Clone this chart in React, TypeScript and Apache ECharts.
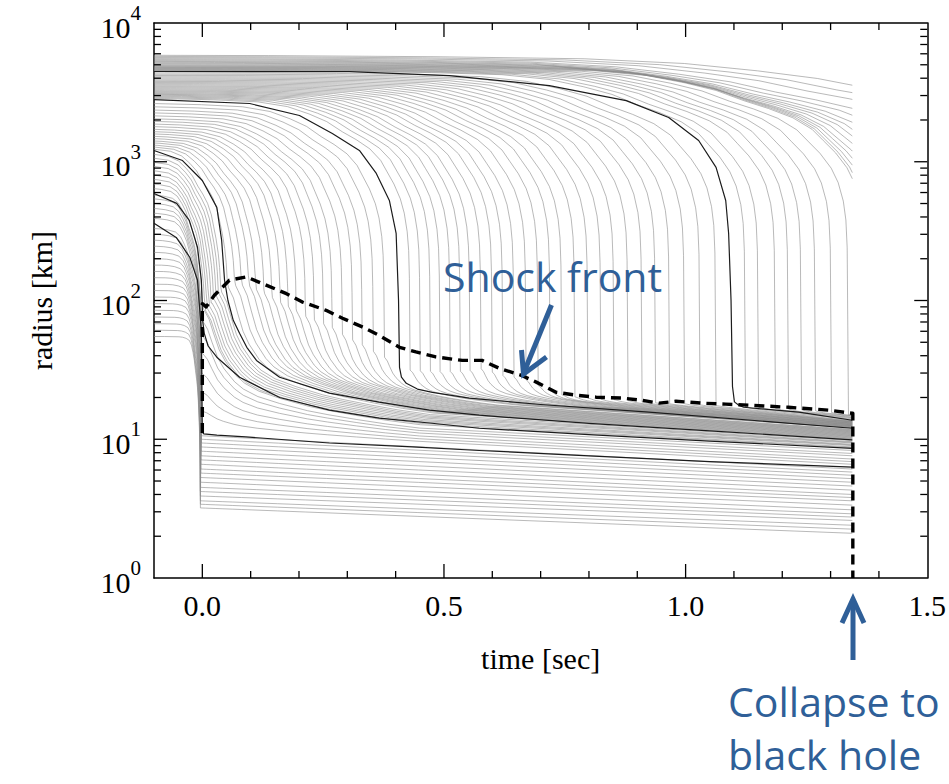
import React, { useEffect, useRef } from 'react';
import * as echarts from 'echarts';

// ---------- axis ranges ----------
const T_START = -0.1; // left edge of the time axis [s]
const T_END = 1.345; // black hole formation, all shells stop here [s]

const xMajorTicks = [0, 0.5, 1.0];
const xMinorTicks = [0.1, 0.2, 0.3, 0.4, 0.6, 0.7, 0.8, 0.9, 1.1, 1.2, 1.3, 1.4];
const yMajorTicks = [10, 100, 1000];
const yMinorTicks = [2, 3, 4, 5, 6, 7, 8, 9, 20, 30, 40, 50, 60, 70, 80, 90, 200, 300, 400, 500, 600, 700, 800, 900, 2000, 3000, 4000, 5000, 6000, 7000, 8000, 9000];

// ---------- shock front (dashed) ----------
const shockTime = [0, 0, 0.008, 0.025, 0.056, 0.091, 0.132, 0.174, 0.207, 0.256, 0.29, 0.331, 0.366, 0.408, 0.442, 0.483, 0.538, 0.579, 0.614, 0.66, 0.691, 0.732, 0.773, 0.815, 0.868, 0.91, 0.945, 0.98, 1.034, 1.083, 1.131, 1.213, 1.296, 1.344, 1.346, 1.346];
const shockRadius = [11.1, 95, 90, 109, 140, 148, 129, 112, 97.5, 85, 74.5, 64.5, 56, 46, 42.6, 39.2, 37, 37, 32.5, 28.9, 25.8, 21.8, 20.8, 20.1, 19.8, 19.1, 18.2, 18.8, 18.2, 17.9, 17.6, 17.0, 16.2, 15.4, 15.4, 1.0];

// ---------- highlighted (black) mass shells ----------
const shellATime = [-0.1, 0.304, 0.511, 0.718, 0.877, 0.965, 1.027, 1.063, 1.083, 1.089, 1.094, 1.097, 1.101, 1.11, 1.12, 1.234, 1.345];
const shellARadius = [4470, 4460, 4180, 3540, 2760, 2084, 1423, 910, 526, 305, 100, 24, 18.6, 17.6, 17.0, 15.7, 13.7];
const shellBTime = [-0.1, 0.098, 0.201, 0.269, 0.325, 0.36, 0.387, 0.401, 0.406, 0.408, 0.412, 0.422, 0.445, 0.476, 0.552, 0.7, 0.924, 1.345];
const shellBRadius = [2806, 2630, 2154, 1600, 1206, 824, 526, 305, 100, 33, 28, 25.3, 23, 21.8, 19.8, 17.8, 15.7, 12];
const shellCTime = [-0.1, -0.041, 0.0, 0.03, 0.04, 0.046, 0.053, 0.064, 0.077, 0.092, 0.112, 0.16, 0.263, 0.366, 0.47, 0.573, 0.8, 1.05, 1.345];
const shellCRadius = [1205, 1020, 733, 469, 271, 140, 100, 72, 58, 46, 37, 28, 21.5, 18.5, 16.2, 14.9, 13, 11.5, 9.9];
const shellDTime = [-0.1, -0.053, -0.027, -0.01, -0.002, 0.0, 0.001, 0.004, 0.012, 0.03, 0.077, 0.16, 0.263, 0.366, 0.47, 0.573, 0.8, 1.05, 1.345];
const shellDRadius = [591, 501, 378, 242, 140, 89, 70, 58, 47, 39, 28, 20, 16.2, 14.2, 13.1, 12, 10.8, 9.7, 8.6];
const shellETime = [-0.1, -0.054, -0.026, -0.01, -0.002, 0.0, 0.003, 0.03, 0.09, 0.263, 0.435, 0.573, 0.8, 1.05, 1.345];
const shellERadius = [360, 285, 205, 140, 60, 11.2, 10.95, 10.7, 10.4, 9.4, 8.8, 8.3, 7.6, 6.9, 6.3];

// ---------- grey mass shells (read per shell: start radius, collapse time, knee, settled & final radius) ----------
const innerStartKm = [330, 300, 272, 246, 222, 200, 180, 162, 146, 131, 118, 106, 95, 85, 76, 68, 61, 55];
const innerCollapseSec = [-0.002, -0.002, -0.002, -0.0025, -0.0025, -0.0025, -0.003, -0.003, -0.003, -0.003, -0.0035, -0.0035, -0.0035, -0.004, -0.004, -0.004, -0.004, -0.004];
const innerSettleKm = [10.6, 10.0, 9.4, 8.8, 8.2, 7.6, 7.1, 6.6, 6.1, 5.7, 5.3, 4.9, 4.5, 4.2, 3.9, 3.6, 3.4, 3.2];
const innerEndKm = [6.1, 5.8, 5.5, 5.2, 4.9, 4.6, 4.3, 4.0, 3.8, 3.6, 3.35, 3.1, 2.9, 2.75, 2.6, 2.4, 2.25, 2.1];

const coreStartKm = [390, 425, 460, 500, 540, 575];
const coreCollapseSec = [-0.0015, -0.0012, -0.0009, -0.0006, -0.0003, -0.0001];
const coreKneeKm = [16, 22, 30, 42, 56, 72];
const coreSettleKm = [11.7, 12.2, 12.8, 13.4, 14.0, 14.5];
const coreEndKm = [6.6, 6.9, 7.2, 7.6, 7.9, 8.3];

const earlyStartKm = [640, 690, 745, 800, 860, 925, 990, 1060, 1130];
const earlyCollapseSec = [0.003, 0.007, 0.011, 0.015, 0.02, 0.025, 0.03, 0.035, 0.04];
const earlyKneeKm = [86, 84, 87, 91, 96, 101, 106, 111, 115];
const earlySettleKm = [15.4, 15.8, 16.2, 16.6, 17.0, 17.4, 17.8, 18.2, 18.6];
const earlyEndKm = [8.7, 8.8, 9.0, 9.1, 9.2, 9.4, 9.5, 9.6, 9.8];

const midStartKm = [1231, 1275, 1317, 1365, 1411, 1467, 1524, 1586, 1647, 1713, 1791, 1869, 1954, 2039, 2142, 2249, 2358, 2489, 2626];
const midCollapseSec = [0.054, 0.069, 0.083, 0.098, 0.112, 0.129, 0.145, 0.162, 0.178, 0.195, 0.214, 0.232, 0.251, 0.269, 0.29, 0.311, 0.331, 0.354, 0.377];
const midKneeKm = [124, 128, 129, 127, 120, 112, 105, 97, 91, 84, 77, 72.5, 68, 64, 57, 52, 48, 43, 39];
const midSettleKm = [19.1, 19.2, 19.3, 19.4, 19.5, 19.5, 19.6, 19.7, 19.7, 19.8, 19.8, 19.9, 19.9, 20.0, 20.0, 20.0, 20.0, 20.1, 20.0];
const midEndKm = [10.0, 10.1, 10.2, 10.3, 10.4, 10.5, 10.6, 10.7, 10.8, 10.9, 11.0, 11.1, 11.2, 11.3, 11.4, 11.5, 11.6, 11.7, 11.8];

const lateStartKm = [2852, 2893, 2934, 2974, 3017, 3060, 3102, 3150, 3199, 3246, 3297, 3353, 3410, 3468, 3525, 3589, 3655, 3722, 3791, 3865, 3941, 4017, 4097, 4183, 4272, 4368];
const lateCollapseSec = [0.43, 0.451, 0.472, 0.492, 0.513, 0.534, 0.554, 0.577, 0.6, 0.622, 0.645, 0.67, 0.695, 0.72, 0.744, 0.771, 0.798, 0.825, 0.852, 0.881, 0.91, 0.938, 0.967, 0.998, 1.03, 1.063];
const lateKneeKm = [31.5, 31.1, 30.9, 30.7, 30.8, 30.9, 31.4, 32.2, 30.5, 28.8, 28.0, 26.8, 24.4, 22.3, 20.9, 20.2, 19.8, 19.4, 19.3, 19.0, 18.5, 18.3, 18.0, 18.0, 17.7, 17.5];
const lateSettleKm = [19.9, 19.8, 19.8, 19.7, 19.7, 19.6, 19.5, 19.5, 19.4, 19.3, 19.2, 19.1, 19.0, 18.9, 18.8, 18.7, 18.6, 18.5, 18.4, 18.2, 18.1, 18.0, 17.8, 17.7, 17.5, 17.3];
const lateEndKm = [12.1, 12.1, 12.2, 12.2, 12.3, 12.4, 12.4, 12.5, 12.5, 12.6, 12.7, 12.7, 12.8, 12.8, 12.9, 13.0, 13.0, 13.1, 13.1, 13.2, 13.3, 13.3, 13.4, 13.4, 13.5, 13.6];

const finalStartKm = [4510, 4545, 4580, 4620, 4660, 4700, 4740, 4780];
const finalCollapseSec = [1.124, 1.151, 1.186, 1.213, 1.24, 1.269, 1.302, 1.337];
const finalKneeKm = [17.1, 17.0, 16.7, 16.5, 16.3, 16.0, 15.6, 15.0];
const finalSettleKm = [16.6, 16.5, 16.2, 16.0, 15.8, 15.5, 15.1, 14.6];
const finalEndKm = [13.9, 14.1, 14.3, 14.4, 14.6, 14.8, 14.7, 14.5];

const outerStartKm = [5850, 5740, 5640, 5540, 5450, 5360, 5280, 5200, 5120, 5050, 4980, 4920, 4870, 4820];
const outerCollapseSec = [1.858, 1.764, 1.681, 1.594, 1.548, 1.507, 1.48, 1.457, 1.434, 1.413, 1.398, 1.385, 1.376, 1.37];

const infallDropTemplate = [[-1.0, 0], [-0.6, 0.002], [-0.5, 0.005], [-0.4, 0.013], [-0.31, 0.028], [-0.25, 0.062], [-0.206, 0.115], [-0.17, 0.17], [-0.138, 0.244], [-0.11, 0.3], [-0.082, 0.367], [-0.06, 0.45], [-0.047, 0.532], [-0.033, 0.62], [-0.02, 0.727], [-0.012, 0.83], [-0.006, 0.964], [-0.003, 1.1], [-0.0015, 1.3]];
// infall time scale vs log10 start radius
const infallTimescale = [[1.7, 0.07], [2.0, 0.1], [2.5, 0.17], [2.77, 0.2], [3.08, 0.37], [3.45, 1.0], [3.65, 1.6], [3.69, 1.85], [3.77, 3.5]];
const settleTemplate = [[0, 1], [0.05, 0.96], [0.11, 0.91], [0.2, 0.78], [0.32, 0.62], [0.45, 0.51], [0.67, 0.38], [0.85, 0.31], [1.15, 0.24], [1.6, 0.18], [2.18, 0.12], [2.6, 0.09], [3.2, 0.055], [3.8, 0.025], [4.5, 0]];
const settleTimescale = [[0, 0.1], [0.1, 0.09], [0.4, 0.05], [1.1, 0.03], [1.4, 0.02]];

const SERIF = "'Liberation Serif', 'DejaVu Serif', serif";
const SANS = "'Open Sans', 'Noto Sans', sans-serif";
const BLUE = '#2f5f98';
const GREY = '#8a8a8a';

function interp(table: number[][], x: number): number {
  if (x <= table[0][0]) return table[0][1];
  for (let i = 1; i < table.length; i++) {
    if (x <= table[i][0]) {
      const [x0, y0] = table[i - 1];
      const [x1, y1] = table[i];
      return y0 + ((y1 - y0) * (x - x0)) / (x1 - x0);
    }
  }
  return table[table.length - 1][1];
}

function shellPath(r0: number, tc: number, knee?: number, settle?: number, end?: number): number[][] {
  const L0 = Math.log10(r0);
  const tau = interp(infallTimescale, L0);
  const D0 = interp(infallDropTemplate, (T_START - tc) / tau);
  const Lk = knee ? Math.log10(knee) : -Infinity;
  const pts: number[][] = [[T_START, r0]];
  for (const [u, D] of infallDropTemplate) {
    const t = tc + u * tau;
    if (t <= T_START + 1e-4) continue;
    if (t >= T_END) break;
    const L = L0 + D0 - D;
    if (L <= Lk) break;
    pts.push([t, Math.pow(10, L)]);
  }
  if (tc >= T_END || knee === undefined || settle === undefined || end === undefined) {
    const L = L0 + D0 - interp(infallDropTemplate, (T_END - tc) / tau);
    pts.push([T_END, Math.pow(10, L)]);
    return pts;
  }
  pts.push([tc, knee]);
  const Ls = Math.log10(settle);
  const Le = Math.log10(end);
  const s = interp(settleTimescale, tc);
  const base = (t: number) => Ls + ((Le - Ls) * (t - tc)) / (T_END - tc);
  for (const [v, P] of settleTemplate) {
    if (v === 0) continue;
    const t = tc + v * s;
    if (t >= T_END) break;
    pts.push([t, Math.pow(10, base(t) + (Lk - Ls) * P)]);
  }
  const vEnd = (T_END - tc) / s;
  pts.push([T_END, Math.pow(10, Le + (Lk - Ls) * interp(settleTemplate, vEnd))]);
  return pts;
}

function zip(a: number[], b: number[]): number[][] {
  return a.map((v, i) => [v, b[i]]);
}

function lineSeries(data: number[][], color: string, width: number, z: number, type: any = 'solid') {
  return {
    type: 'line',
    data,
    xAxisIndex: 0,
    yAxisIndex: 0,
    symbol: 'none',
    showSymbol: false,
    silent: true,
    clip: true,
    z,
    lineStyle: { color, width, type, cap: 'butt', join: 'round' },
    emphasis: { disabled: true },
    animation: false,
  };
}

function buildOption() {
  const series: any[] = [];
  const grey = (pts: number[][]) => series.push(lineSeries(pts, GREY, 0.6, 2));

  innerStartKm.forEach((r, i) => grey(shellPath(r, innerCollapseSec[i], innerSettleKm[i], innerSettleKm[i], innerEndKm[i])));
  coreStartKm.forEach((r, i) => grey(shellPath(r, coreCollapseSec[i], coreKneeKm[i], coreSettleKm[i], coreEndKm[i])));
  earlyStartKm.forEach((r, i) => grey(shellPath(r, earlyCollapseSec[i], earlyKneeKm[i], earlySettleKm[i], earlyEndKm[i])));
  midStartKm.forEach((r, i) => grey(shellPath(r, midCollapseSec[i], midKneeKm[i], midSettleKm[i], midEndKm[i])));
  lateStartKm.forEach((r, i) => grey(shellPath(r, lateCollapseSec[i], lateKneeKm[i], lateSettleKm[i], lateEndKm[i])));
  finalStartKm.forEach((r, i) => grey(shellPath(r, finalCollapseSec[i], finalKneeKm[i], finalSettleKm[i], finalEndKm[i])));
  outerStartKm.forEach((r, i) => grey(shellPath(r, outerCollapseSec[i])));

  const BLACK = '#1c1c1c';
  series.push(lineSeries(zip(shellATime, shellARadius), BLACK, 1.2, 3));
  series.push(lineSeries(zip(shellBTime, shellBRadius), BLACK, 1.2, 3));
  series.push(lineSeries(zip(shellCTime, shellCRadius), BLACK, 1.2, 3));
  series.push(lineSeries(zip(shellDTime, shellDRadius), BLACK, 1.2, 3));
  series.push(lineSeries(zip(shellETime, shellERadius), BLACK, 1.2, 3));

  series.push(lineSeries(zip(shockTime, shockRadius), '#000', 3.4, 4, [10, 6]));

  const tickData = [
    ...xMajorTicks.map((v) => [v, 1, 0]),
    ...xMinorTicks.map((v) => [v, 1, 1]),
    ...yMajorTicks.map((v) => [T_START, v, 2]),
    ...yMinorTicks.map((v) => [T_START, v, 3]),
  ];
  series.push({
    type: 'custom',
    xAxisIndex: 0,
    yAxisIndex: 0,
    silent: true,
    clip: false,
    z: 10,
    data: tickData,
    renderItem: (params: any, api: any) => {
      const kind = api.value(2);
      const style = { stroke: '#000', lineWidth: 1.3 };
      if (kind < 2) {
        const x = api.value(0);
        const len = kind === 0 ? 14 : 7;
        const b = api.coord([x, 1]);
        const t = api.coord([x, 10000]);
        return {
          type: 'group',
          children: [
            { type: 'line', shape: { x1: b[0], y1: b[1], x2: b[0], y2: b[1] - len }, style },
            { type: 'line', shape: { x1: t[0], y1: t[1], x2: t[0], y2: t[1] + len }, style },
          ],
        };
      }
      const y = api.value(1);
      const len = kind === 2 ? 13 : 7;
      const l = api.coord([T_START, y]);
      const r = api.coord([1.5, y]);
      return {
        type: 'group',
        children: [
          { type: 'line', shape: { x1: l[0], y1: l[1], x2: l[0] + len, y2: l[1] }, style },
          { type: 'line', shape: { x1: r[0], y1: r[1], x2: r[0] - len, y2: r[1] }, style },
        ],
      };
    },
  });

  const axisLine = { show: true, onZero: false, lineStyle: { color: '#000', width: 1.5 } };

  return {
    animation: false,
    backgroundColor: '#fff',
    grid: { left: 154, right: 20, top: 23, bottom: 206, containLabel: false },
    xAxis: [
      {
        type: 'value',
        position: 'bottom',
        min: T_START,
        max: 1.5,
        interval: 0.1,
        axisLine,
        axisTick: { show: false },
        splitLine: { show: false },
        axisLabel: {
          show: true,
          margin: 12,
          fontFamily: SERIF,
          fontSize: 30,
          color: '#000',
          showMinLabel: true,
          showMaxLabel: true,
          formatter: (v: number) => {
            const r = Math.round(v * 10) / 10;
            return Math.abs(r * 2 - Math.round(r * 2)) < 1e-6 && r >= 0 ? r.toFixed(1) : '';
          },
        },
        name: 'time [sec]',
        nameLocation: 'middle',
        nameGap: 65,
        nameTextStyle: { fontFamily: SERIF, fontSize: 30, color: '#000' },
      },
      {
        type: 'value',
        position: 'top',
        min: T_START,
        max: 1.5,
        interval: 0.1,
        axisLine,
        axisTick: { show: false },
        splitLine: { show: false },
        axisLabel: { show: false },
      },
    ],
    yAxis: [
      {
        type: 'log',
        logBase: 10,
        position: 'left',
        min: 1,
        max: 10000,
        axisLine,
        axisTick: { show: false },
        splitLine: { show: false },
        minorSplitLine: { show: false },
        axisLabel: {
          show: true,
          margin: 13,
          formatter: (v: number) => `{b|10}{s|${Math.round(Math.log10(v))}}`,
          rich: {
            b: { fontFamily: SERIF, fontSize: 30, color: '#000', verticalAlign: 'middle', padding: [8, 0, 0, 0] },
            s: { fontFamily: SERIF, fontSize: 21, color: '#000', verticalAlign: 'middle', padding: [0, 0, 20, 0] },
          },
        },
        name: 'radius [km]',
        nameLocation: 'middle',
        nameGap: 98,
        nameRotate: 90,
        nameTextStyle: { fontFamily: SERIF, fontSize: 30, color: '#000' },
      },
      {
        type: 'log',
        logBase: 10,
        position: 'right',
        min: 1,
        max: 10000,
        axisLine,
        axisTick: { show: false },
        splitLine: { show: false },
        axisLabel: { show: false },
      },
    ],
    graphic: [
      {
        type: 'text',
        x: 443,
        y: 276,
        z: 20,
        style: { text: 'Shock front', fill: BLUE, fontFamily: SANS, fontSize: 41, align: 'left', verticalAlign: 'middle' },
      },
      {
        type: 'polyline',
        z: 20,
        shape: { points: [[551.5, 305], [524.5, 371]] },
        style: { stroke: BLUE, lineWidth: 5, fill: null, lineCap: 'butt' },
      },
      {
        type: 'polyline',
        z: 20,
        shape: { points: [[521.5, 350], [523.5, 374], [546.5, 357]] },
        style: { stroke: BLUE, lineWidth: 5, fill: null, lineJoin: 'miter' },
      },
      {
        type: 'polyline',
        z: 20,
        shape: { points: [[853, 660], [853, 601]] },
        style: { stroke: BLUE, lineWidth: 5, fill: null },
      },
      {
        type: 'polyline',
        z: 20,
        shape: { points: [[842, 623], [853, 599], [864, 623]] },
        style: { stroke: BLUE, lineWidth: 5, fill: null, lineJoin: 'miter' },
      },
      {
        type: 'text',
        x: 728,
        y: 701,
        z: 20,
        style: { text: 'Collapse to', fill: BLUE, fontFamily: SANS, fontSize: 41, align: 'left', verticalAlign: 'middle' },
      },
      {
        type: 'text',
        x: 728,
        y: 754,
        z: 20,
        style: { text: 'black hole', fill: BLUE, fontFamily: SANS, fontSize: 41, align: 'left', verticalAlign: 'middle' },
      },
    ],
    series,
  };
}

export default function App() {
  const ref = useRef<HTMLDivElement>(null);
  useEffect(() => {
    if (!ref.current) return;
    const chart = echarts.init(ref.current, null, { renderer: 'svg' });
    chart.setOption(buildOption() as any);
    return () => chart.dispose();
  }, []);
  return (
    <div
      ref={ref}
      style={{ position: 'fixed', left: 0, top: 0, width: 949, height: 784, background: '#fff' }}
    />
  );
}
